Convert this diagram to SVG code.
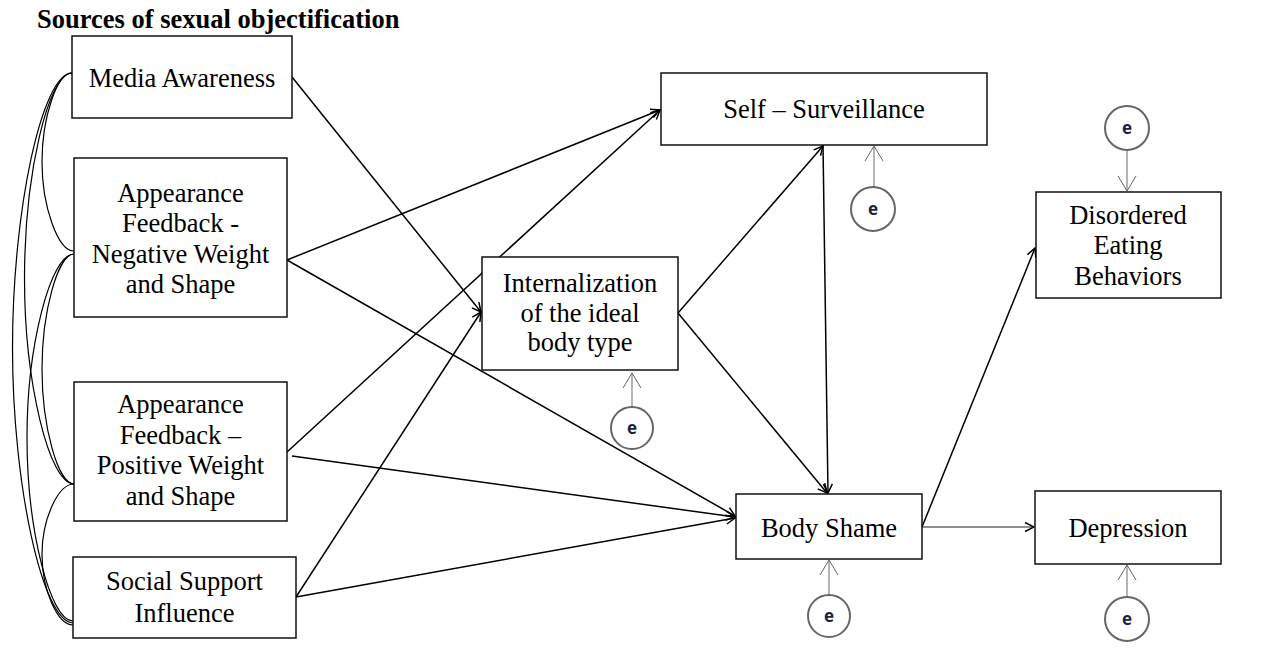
<svg xmlns="http://www.w3.org/2000/svg" width="1272" height="649" viewBox="0 0 1272 649">
<defs>
<style>
.box{fill:#fff;stroke:#111;stroke-width:1.5}
.lbl{font-family:"Liberation Serif","Times New Roman",serif;font-size:26.5px;fill:#000;text-anchor:middle}
.title{font-family:"Liberation Serif","Times New Roman",serif;font-size:26.5px;font-weight:bold;fill:#000}
.arr{fill:none;stroke:#000;stroke-width:1.5;marker-end:url(#ah)}
.thin{fill:none;stroke:#222;stroke-width:1.1;marker-end:url(#ah)}
.earr{fill:none;stroke:#777;stroke-width:1.1;marker-end:url(#eh)}
.cor{fill:none;stroke:#000;stroke-width:1.2}
.ec{fill:#fff;stroke:#666;stroke-width:2}
.et{font-family:"Open Sans","DejaVu Sans",sans-serif;font-size:17px;font-weight:bold;fill:#1c2340;text-anchor:middle}
</style>
<marker id="ah" viewBox="-11 -6 12 12" refX="0" refY="0" markerWidth="12" markerHeight="12" markerUnits="userSpaceOnUse" orient="auto">
<path d="M-9,-4.5 L0,0 L-9,4.5" fill="none" stroke="#000" stroke-width="1.5"/>
</marker>
<marker id="eh" viewBox="-17 -11 19 22" refX="0" refY="0" markerWidth="19" markerHeight="22" markerUnits="userSpaceOnUse" orient="auto">
<path d="M-15,-9 L0,0 L-15,9" fill="none" stroke="#666" stroke-width="1"/>
</marker>
</defs>
<rect width="1272" height="649" fill="#fff"/>
<text class="title" x="37" y="28">Sources of sexual objectification</text>

<g id="connectors">
<path class="cor" d="M72,73 C57,73 42,117.5 42,162 C42,206.5 58,251 74,251"/>
<path class="cor" d="M72,73 C48,73 24.5,175.75 24.5,278.5 C24.5,381.25 49,484 74,484"/>
<path class="cor" d="M72,73 C42,73 12.5,210.5 12.5,348 C12.5,485.5 43,623 73,623"/>
<path class="cor" d="M74,254 C58,254 42,311.5 42,369 C42,426.5 58,484 74,484"/>
<path class="cor" d="M74,254 C50.5,254 27,345.75 27,437.5 C27,529.25 50,621 73,621"/>
<path class="cor" d="M74,484 C58,484 42,519.25 42,554.5 C42,589.75 57.5,625 73,625"/>
<path class="arr" d="M292,77 L481,312"/>
<path class="arr" d="M287,260 L660,110"/>
<path class="arr" d="M287,260 L735,516"/>
<path class="arr" d="M287,452 L660,110"/>
<path class="arr" d="M292,456 L735,517"/>
<path class="arr" d="M296,597 L481,312"/>
<path class="arr" d="M296,597 L735,518"/>
<path class="arr" d="M678,313 L823,146"/>
<path class="arr" d="M678,313 L827,493"/>
<path class="arr" d="M823,145 L828,493"/>
<path class="arr" d="M922,527 L1035,248"/>
<path class="thin" d="M922,527 L1034,527"/>
<path class="earr" d="M632,407 L632,373"/>
<path class="earr" d="M874,187 L874,146"/>
<path class="earr" d="M1127,150 L1127,191"/>
<path class="earr" d="M829,595 L829,560"/>
<path class="earr" d="M1127,597 L1127,565"/>
</g>

<g id="media-awareness">
<rect class="box" x="72" y="36" width="220" height="82"/>
<text class="lbl" x="182" y="87">Media Awareness</text>
</g>
<g id="appearance-negative">
<rect class="box" x="74" y="158" width="213" height="159"/>
<text class="lbl" x="180.5" y="201.5">Appearance</text>
<text class="lbl" x="180.5" y="232">Feedback -</text>
<text class="lbl" x="180.5" y="262.5">Negative Weight</text>
<text class="lbl" x="180.5" y="293">and Shape</text>
</g>
<g id="appearance-positive">
<rect class="box" x="74" y="382" width="213" height="139"/>
<text class="lbl" x="180.5" y="413">Appearance</text>
<text class="lbl" x="180.5" y="443.5">Feedback –</text>
<text class="lbl" x="180.5" y="474">Positive Weight</text>
<text class="lbl" x="180.5" y="504.5">and Shape</text>
</g>
<g id="social-support">
<rect class="box" x="73" y="557" width="223" height="81"/>
<text class="lbl" x="184.5" y="590">Social Support</text>
<text class="lbl" x="184.5" y="622">Influence</text>
</g>
<g id="internalization">
<rect class="box" x="482" y="257" width="196" height="113"/>
<text class="lbl" x="580" y="292">Internalization</text>
<text class="lbl" x="580" y="321.5">of the ideal</text>
<text class="lbl" x="580" y="350.5">body type</text>
</g>
<g id="self-surveillance">
<rect class="box" x="661" y="73" width="326" height="72"/>
<text class="lbl" x="824" y="118">Self – Surveillance</text>
</g>
<g id="body-shame">
<rect class="box" x="736" y="494" width="186" height="65"/>
<text class="lbl" x="829" y="536.5">Body Shame</text>
</g>
<g id="disordered-eating">
<rect class="box" x="1036" y="192" width="185" height="106"/>
<text class="lbl" x="1128" y="223.5">Disordered</text>
<text class="lbl" x="1128" y="254">Eating</text>
<text class="lbl" x="1128" y="284.5">Behaviors</text>
</g>
<g id="depression">
<rect class="box" x="1035" y="491" width="186" height="73"/>
<text class="lbl" x="1128" y="536.5">Depression</text>
</g>
<g id="e-internalization">
<circle class="ec" cx="632" cy="428" r="21"/>
<text class="et" x="632" y="434">e</text>
</g>
<g id="e-self-surveillance">
<circle class="ec" cx="873" cy="209" r="22"/>
<text class="et" x="873" y="215">e</text>
</g>
<g id="e-disordered-eating">
<circle class="ec" cx="1127" cy="128" r="22"/>
<text class="et" x="1127" y="134">e</text>
</g>
<g id="e-body-shame">
<circle class="ec" cx="829" cy="616" r="21"/>
<text class="et" x="829" y="622">e</text>
</g>
<g id="e-depression">
<circle class="ec" cx="1127" cy="619" r="22"/>
<text class="et" x="1127" y="625">e</text>
</g>
</svg>
